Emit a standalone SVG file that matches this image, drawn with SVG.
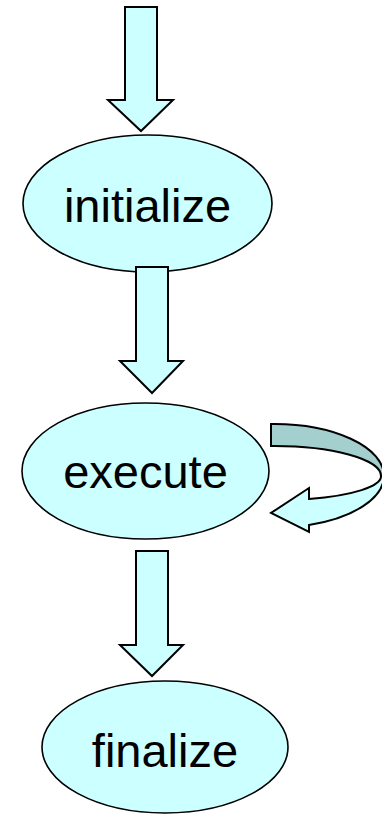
<svg xmlns="http://www.w3.org/2000/svg" width="382" height="814" viewBox="0 0 382 814">
<style>
.node{fill:#CCFFFF;stroke:#000;stroke-width:1.6}
.lbl{font-family:"Liberation Sans",Arial,sans-serif;font-size:47px;fill:#000;text-anchor:middle}
.arr{fill:#CCFFFF;stroke:#000;stroke-width:2;stroke-linejoin:miter}
.back{fill:#A3CFCF;stroke:#000;stroke-width:2;stroke-linejoin:miter}
</style>
<rect width="382" height="814" fill="#fff"/>
<g id="initialize">
<ellipse class="node" cx="147.5" cy="203.5" rx="124.5" ry="68.5"/>
<text class="lbl" x="147.5" y="222">initialize</text>
</g>
<g id="execute">
<ellipse class="node" cx="145.5" cy="471" rx="123.5" ry="68"/>
<text class="lbl" x="145.5" y="488">execute</text>
</g>
<g id="finalize">
<ellipse class="node" cx="165" cy="747" rx="123" ry="66"/>
<text class="lbl" x="165" y="767">finalize</text>
</g>
<g id="connectors">
<path class="arr" d="M125,7 H157 V100 H173 L141,131 L108,100 H125 Z"/>
<path class="arr" d="M136,267 H168 V361 H183 L152,393 L120,361 H136 Z"/>
<path class="arr" d="M136,551 H168 V645 H183 L152,676 L120,645 H136 Z"/>
<g id="loop">
<path class="back" d="M271,424 A110,52 0 0 1 384,476 L381,476 A107,30 0 0 0 271,446 Z"/>
<path class="arr" d="M384,476 A110,52 0 0 1 309,525 L309,532 L271,513 L309,488 L309,499 A107,24 0 0 0 381,476 Z"/>
</g>
</g>
</svg>
